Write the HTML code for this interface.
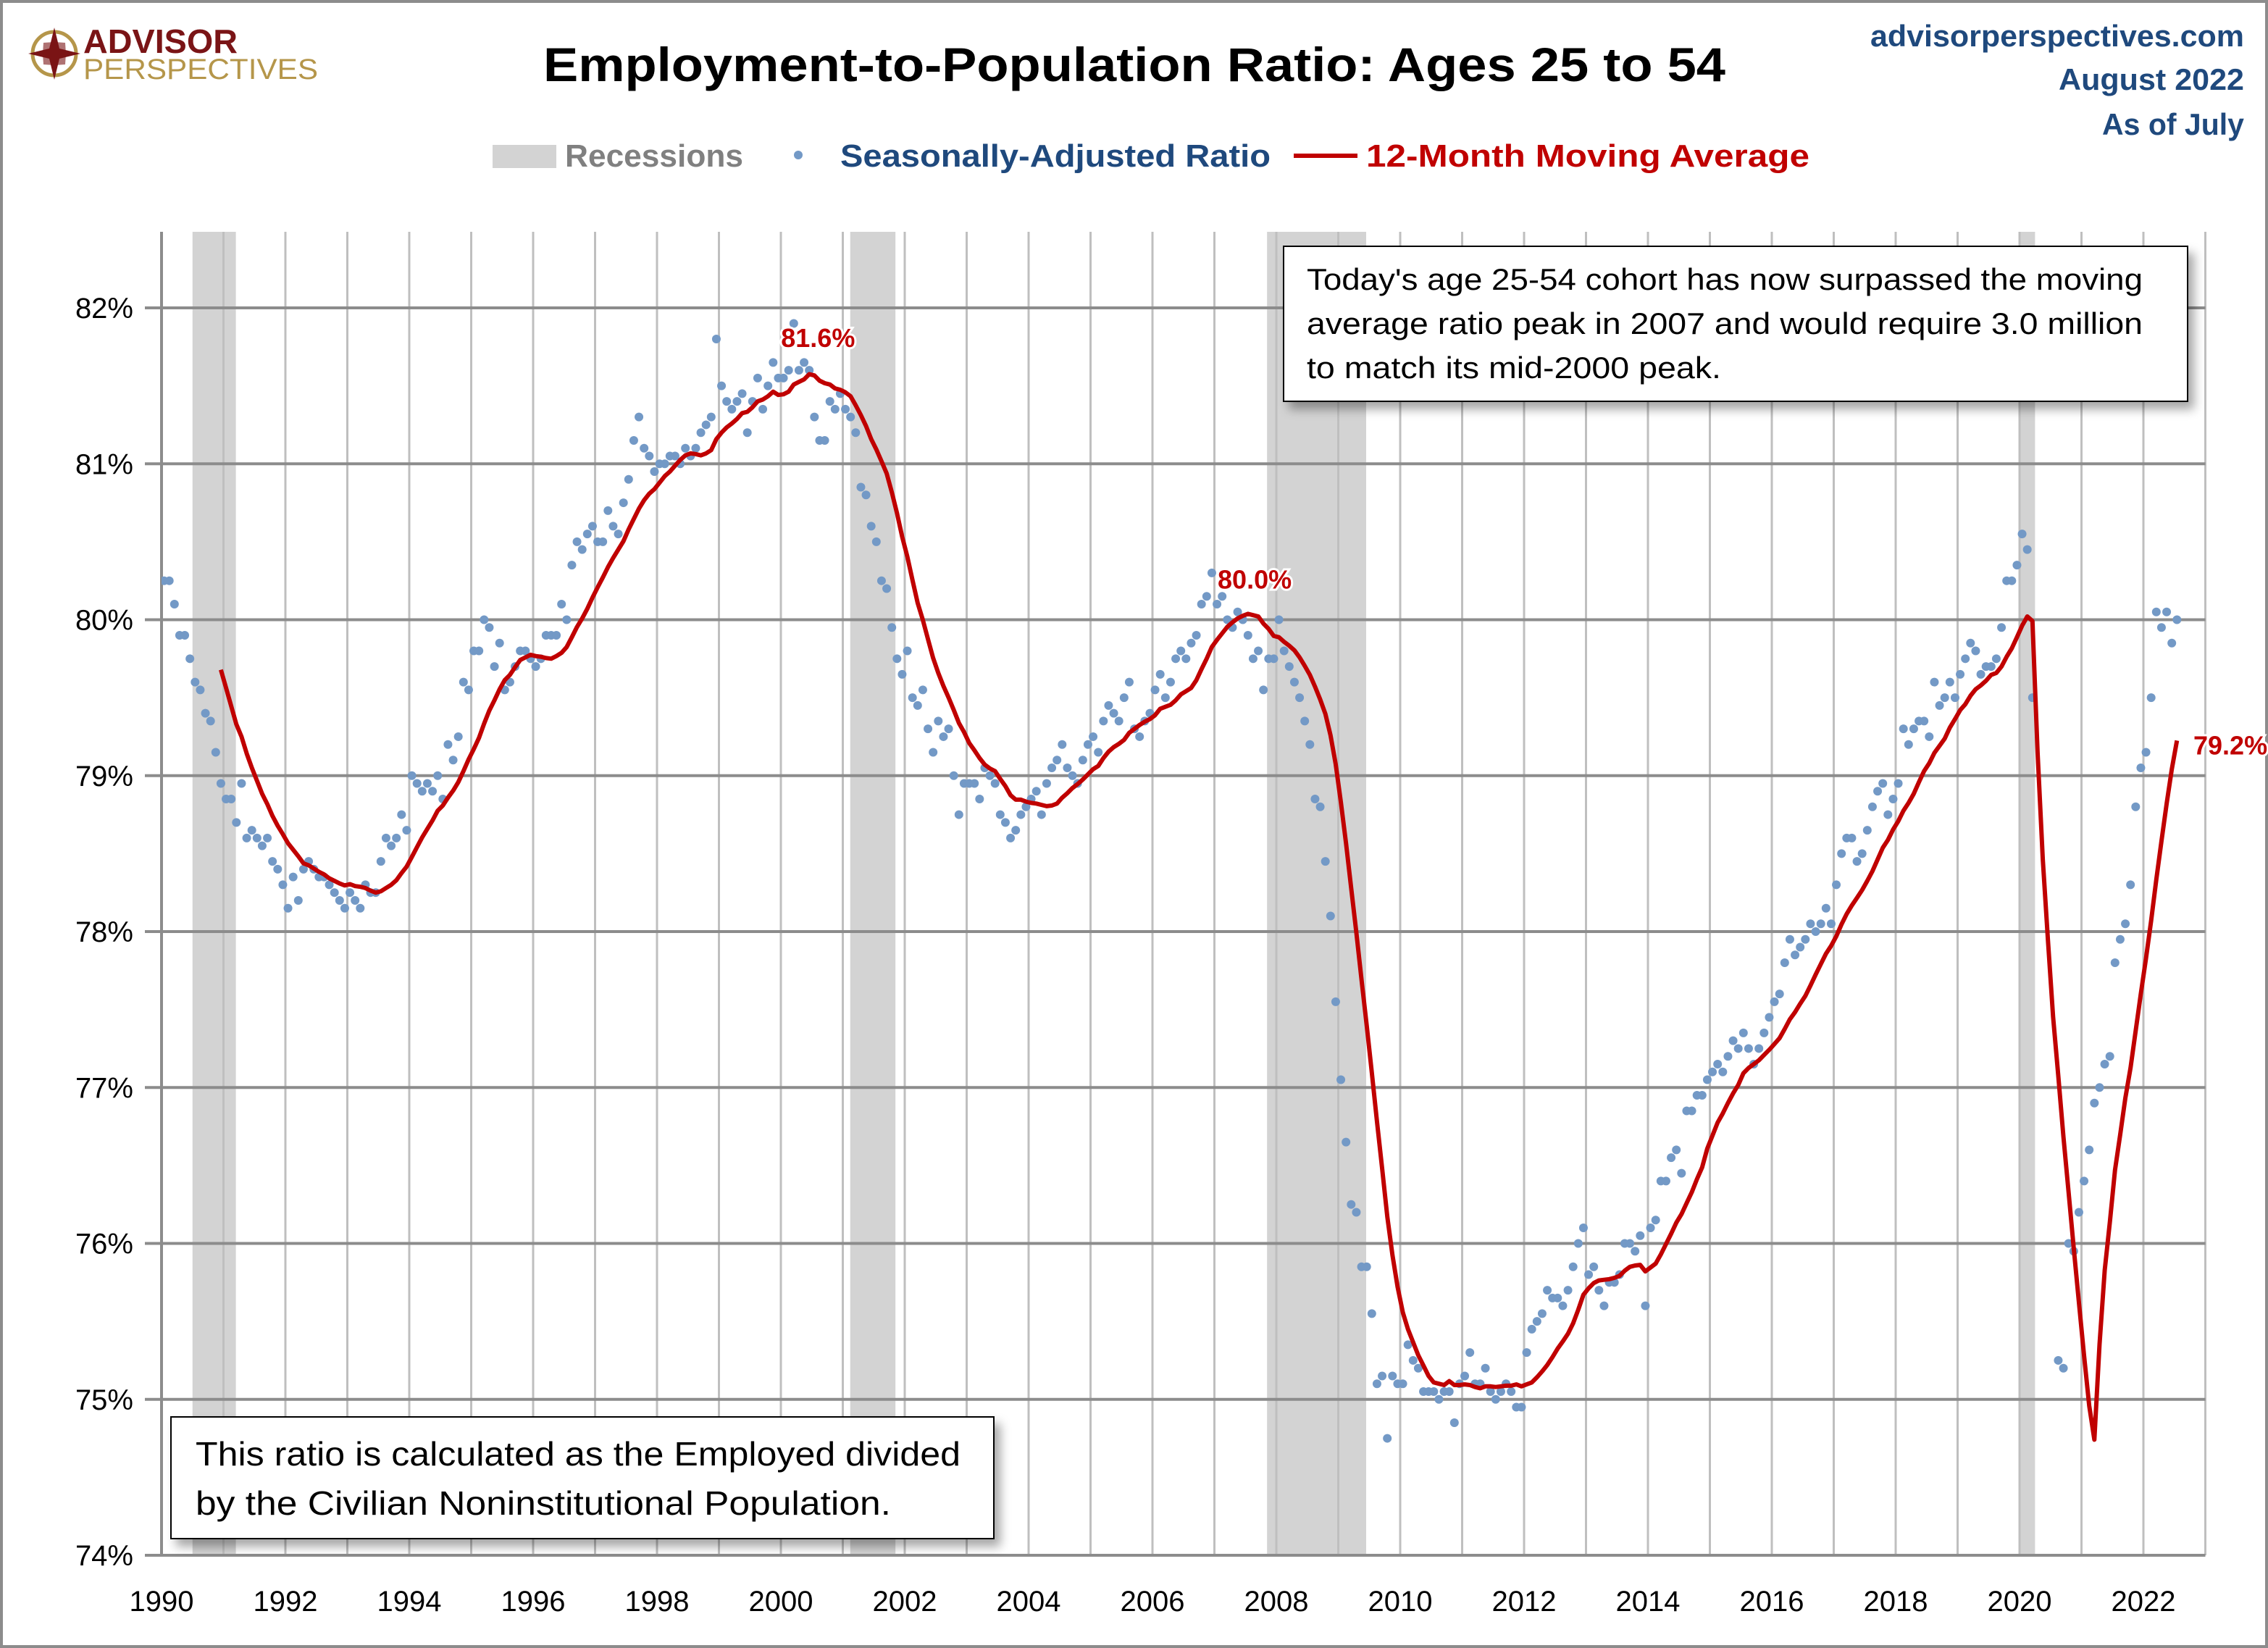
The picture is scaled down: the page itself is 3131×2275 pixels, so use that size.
<!DOCTYPE html>
<html><head><meta charset="utf-8"><style>
html,body{margin:0;padding:0;background:#fff;width:3131px;height:2275px;overflow:hidden;}
svg{display:block;font-family:"Liberation Sans",sans-serif;}
</style></head><body>
<svg id="chart" width="3131" height="2275" viewBox="0 0 3131 2275" xmlns="http://www.w3.org/2000/svg">
<defs>
<clipPath id="plotclip"><rect x="223" y="318" width="2823" height="1831"/></clipPath>
<filter id="shadow" x="-5%" y="-10%" width="115%" height="130%"><feDropShadow dx="8" dy="10" stdDeviation="7" flood-color="#000" flood-opacity="0.35"/></filter>
</defs>
<rect x="2" y="2" width="3127" height="2271" fill="#fff" stroke="#8c8c8c" stroke-width="4"/>
<g id="logo">
<circle cx="75" cy="74" r="30" fill="none" stroke="#b5964a" stroke-width="5"/>
<polygon points="75,38 82,67 111,74 82,81 75,110 68,81 39,74 68,67" fill="#7a1416"/>
<polygon points="75,58 90,59 91,74 90,89 75,90 60,89 59,74 60,59" fill="#7a1416" opacity="0.6"/>
<text x="115" y="73" font-size="46" font-weight="bold" fill="#7a1416" textLength="213" lengthAdjust="spacingAndGlyphs">ADVISOR</text>
<text x="115" y="109" font-size="40" fill="#b5964a" textLength="324" lengthAdjust="spacingAndGlyphs">PERSPECTIVES</text>
</g>
<text x="1566" y="112" text-anchor="middle" font-size="66" font-weight="bold" fill="#000" textLength="1632" lengthAdjust="spacingAndGlyphs">Employment-to-Population Ratio: Ages 25 to 54</text>
<g font-weight="bold" fill="#1f497d" font-size="42" text-anchor="end">
<text x="3098" y="64" textLength="516" lengthAdjust="spacingAndGlyphs">advisorperspectives.com</text>
<text x="3098" y="124" textLength="256" lengthAdjust="spacingAndGlyphs">August 2022</text>
<text x="3098" y="186" textLength="196" lengthAdjust="spacingAndGlyphs">As of July</text>
</g>
<g>
<g>
<rect x="680" y="200" width="88" height="32" fill="#d3d3d3"/>
<text x="780" y="230" font-size="44" font-weight="bold" fill="#808080" textLength="246" lengthAdjust="spacingAndGlyphs">Recessions</text></g>
<g>
<circle cx="1102" cy="214" r="6" fill="#7399c6"/>
<text x="1160" y="230" font-size="44" font-weight="bold" fill="#1f497d" textLength="594" lengthAdjust="spacingAndGlyphs">Seasonally-Adjusted Ratio</text></g>
<g>
<line x1="1786" y1="215" x2="1874" y2="215" stroke="#c00000" stroke-width="6"/>
<text x="1886" y="230" font-size="44" font-weight="bold" fill="#c00000" textLength="612" lengthAdjust="spacingAndGlyphs">12-Month Moving Average</text></g>
</g>
<g id="plot"></g>
</svg>
<script>
const recessionStarts = [1990.5, 2001.12, 2007.85, 2020.0];
const recessionEnds = [1991.2, 2001.85, 2009.45, 2020.25];
const yTicks = [74, 75, 76, 77, 78, 79, 80, 81, 82];
const xTickYears = [1990,1992,1994,1996,1998,2000,2002,2004,2006,2008,2010,2012,2014,2016,2018,2020,2022];
const startYear = 1990;
// monthly seasonally-adjusted ratio from Jan 1990
const ratio = [
80.25,80.25,80.1,79.9,79.9,79.75,79.6,79.55,79.4,79.35,79.15,78.95,
78.85,78.85,78.7,78.95,78.6,78.65,78.6,78.55,78.6,78.45,78.4,78.3,
78.15,78.35,78.2,78.4,78.45,78.4,78.35,78.35,78.3,78.25,78.2,78.15,
78.25,78.2,78.15,78.3,78.25,78.25,78.45,78.6,78.55,78.6,78.75,78.65,
79.0,78.95,78.9,78.95,78.9,79.0,78.85,79.2,79.1,79.25,79.6,79.55,
79.8,79.8,80.0,79.95,79.7,79.85,79.55,79.6,79.7,79.8,79.8,79.75,
79.7,79.75,79.9,79.9,79.9,80.1,80.0,80.35,80.5,80.45,80.55,80.6,
80.5,80.5,80.7,80.6,80.55,80.75,80.9,81.15,81.3,81.1,81.05,80.95,
81.0,81.0,81.05,81.05,81.0,81.1,81.05,81.1,81.2,81.25,81.3,81.8,
81.5,81.4,81.35,81.4,81.45,81.2,81.4,81.55,81.35,81.5,81.65,81.55,
81.55,81.6,81.9,81.6,81.65,81.6,81.3,81.15,81.15,81.4,81.35,81.45,
81.35,81.3,81.2,80.85,80.8,80.6,80.5,80.25,80.2,79.95,79.75,79.65,
79.8,79.5,79.45,79.55,79.3,79.15,79.35,79.25,79.3,79.0,78.75,78.95,
78.95,78.95,78.85,79.05,79.0,78.95,78.75,78.7,78.6,78.65,78.75,78.8,
78.85,78.9,78.75,78.95,79.05,79.1,79.2,79.05,79.0,78.95,79.1,79.2,
79.25,79.15,79.35,79.45,79.4,79.35,79.5,79.6,79.3,79.25,79.35,79.4,
79.55,79.65,79.5,79.6,79.75,79.8,79.75,79.85,79.9,80.1,80.15,80.3,
80.1,80.15,80.0,79.95,80.05,80.0,79.9,79.75,79.8,79.55,79.75,79.75,
80.0,79.8,79.7,79.6,79.5,79.35,79.2,78.85,78.8,78.45,78.1,77.55,
77.05,76.65,76.25,76.2,75.85,75.85,75.55,75.1,75.15,74.75,75.15,75.1,
75.1,75.35,75.25,75.2,75.05,75.05,75.05,75.0,75.05,75.05,74.85,75.1,
75.15,75.3,75.1,75.1,75.2,75.05,75.0,75.05,75.1,75.05,74.95,74.95,
75.3,75.45,75.5,75.55,75.7,75.65,75.65,75.6,75.7,75.85,76.0,76.1,
75.8,75.85,75.7,75.6,75.75,75.75,75.8,76.0,76.0,75.95,76.05,75.6,
76.1,76.15,76.4,76.4,76.55,76.6,76.45,76.85,76.85,76.95,76.95,77.05,
77.1,77.15,77.1,77.2,77.3,77.25,77.35,77.25,77.15,77.25,77.35,77.45,
77.55,77.6,77.8,77.95,77.85,77.9,77.95,78.05,78.0,78.05,78.15,78.05,
78.3,78.5,78.6,78.6,78.45,78.5,78.65,78.8,78.9,78.95,78.75,78.85,
78.95,79.3,79.2,79.3,79.35,79.35,79.25,79.6,79.45,79.5,79.6,79.5,
79.65,79.75,79.85,79.8,79.65,79.7,79.7,79.75,79.95,80.25,80.25,80.35,
80.55,80.45,79.5,69.7,71.4,73.5,73.8,75.25,75.2,76.0,75.95,76.2,
76.4,76.6,76.9,77.0,77.15,77.2,77.8,77.95,78.05,78.3,78.8,79.05,
79.15,79.5,80.05,79.95,80.05,79.85,80.0
];
const annLabels = ["81.6%", "80.0%", "79.2%"];
const annYears = [2000.6, 2007.65, 2022.55];
const annValues = [81.6, 80.05, 79.2];

const NS = "http://www.w3.org/2000/svg";
const plot = document.getElementById('plot');
const X0 = 223, PXY = 85.5, Y82 = 425, PXP = 215.25;
function xs(yr){ return X0 + (yr - 1990) * PXY; }
function ys(v){ return Y82 + (82 - v) * PXP; }
function mk(tag, attrs, parent){ const e = document.createElementNS(NS, tag); for (const k in attrs) e.setAttribute(k, attrs[k]); (parent||plot).appendChild(e); return e; }

for (let i = 0; i < recessionStarts.length; i++) {
  const r = mk('rect', {x: xs(recessionStarts[i]), y: 320, width: xs(recessionEnds[i]) - xs(recessionStarts[i]), height: ys(74) - 320, fill: '#d3d3d3'});
  
  
}
for (let yr = 1991; yr <= 2023; yr++) {
  const l = mk('line', {x1: xs(yr), y1: 320, x2: xs(yr), y2: ys(74), stroke: '#bfbfbf', 'stroke-width': 3});
  
  
}
yTicks.forEach(t => {
  const l = mk('line', {x1: 200, y1: ys(t), x2: xs(2023), y2: ys(t), stroke: '#8c8c8c', 'stroke-width': 4});
  
  
  const tx = mk('text', {x: 184, y: ys(t) + 14, 'text-anchor': 'end', 'font-size': 40, fill: '#000'});
  tx.textContent = t + '%';
  
  
});
const ya = mk('line', {x1: X0, y1: 320, x2: X0, y2: ys(74) + 2, stroke: '#8c8c8c', 'stroke-width': 4});


xTickYears.forEach(yr => {
  const tx = mk('text', {x: xs(yr), y: 2224, 'text-anchor': 'middle', 'font-size': 40, fill: '#000'});
  tx.textContent = yr;
  
  
});
const clipG = mk('g', {'clip-path': 'url(#plotclip)'});


ratio.forEach((v, i) => {
  const c = mk('circle', {cx: xs(startYear + (i + 0.5) / 12), cy: ys(v), r: 6, fill: '#7399c6'}, clipG);
  
  
});
let d = '';
for (let i = 11; i < ratio.length; i++) {
  let s = 0; for (let j = i - 11; j <= i; j++) s += ratio[j];
  const m = s / 12;
  d += (i === 11 ? 'M' : 'L') + xs(startYear + (i + 0.5) / 12).toFixed(1) + ',' + ys(m).toFixed(1);
}
const ma = mk('path', {d: d, fill: 'none', stroke: '#c00000', 'stroke-width': 6, 'stroke-linejoin': 'round'}, clipG);


annLabels.forEach((lab, i) => {
  const anchor = i === 2 ? 'start' : 'middle';
  const dx = i === 2 ? 22 : 0, dy = i === 2 ? 14 : -32;
  const t = mk('text', {x: xs(annYears[i]) + dx, y: ys(annValues[i]) + dy, 'text-anchor': anchor, 'font-size': 36, 'font-weight': 'bold', fill: '#c00000', stroke: '#fff', 'stroke-width': 6, 'paint-order': 'stroke'});
  t.textContent = lab;
  
  
});
function box(x, y, w, h, lines, fs, lh, tx, ty, name, tl) {
  const g = mk('g', {});
  
  
  mk('rect', {x: x, y: y, width: w, height: h, fill: '#fff', stroke: '#000', 'stroke-width': 2, filter: 'url(#shadow)'}, g);
  lines.forEach((ln, k) => {
    const t = mk('text', {x: tx, y: ty + k * lh, 'font-size': fs, fill: '#000'}, g);
    if (tl[k]) { t.setAttribute('textLength', tl[k]); t.setAttribute('lengthAdjust', 'spacingAndGlyphs'); }
    t.textContent = ln;
  });
}
box(1772, 340, 1248, 214, ["Today's age 25-54 cohort has now surpassed the moving", "average ratio peak in 2007 and would require 3.0 million", "to match its mid-2000 peak."], 42, 61, 1804, 400, 'annotation-box', [1154, 1154, 572]);
box(236, 1956, 1136, 168, ["This ratio is calculated as the Employed divided", "by the Civilian Noninstitutional Population."], 46, 68, 270, 2023, 'note-box', [1056, 960]);
</script>
</body></html>
